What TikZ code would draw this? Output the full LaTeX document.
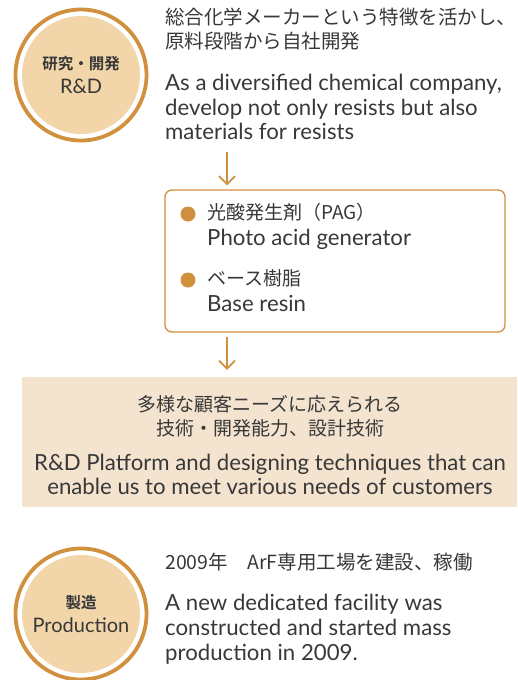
\documentclass[tikz,border=0pt]{standalone}
\usepackage{fontspec}
\setmainfont{Lato}
\newfontfamily\jpfont{Noto Sans CJK JP}[BoldFont={Noto Sans CJK JP Bold}]
\usepackage{xcolor}
\usetikzlibrary{arrows.meta,positioning}
\definecolor{accent}{HTML}{D1903E}
\definecolor{cream}{HTML}{F2D6AA}
\definecolor{band}{HTML}{F3E3CF}
\definecolor{ink}{HTML}{383838}
\newcommand\jptext[1]{{\jpfont\fontsize{19}{24.5}\selectfont #1}}

\begin{document}
\begin{tikzpicture}[x=1pt, y=-1pt,
  every node/.style={text=ink, inner sep=0pt},
  ring/.style={circle, draw=accent, line width=3.8pt, fill=white, minimum size=131pt},
  disc/.style={circle, fill=cream, minimum size=118pt, align=center, font=\fontsize{20}{24}\selectfont},
  jp/.style={font=\jpfont\fontsize{19.5}{24}\selectfont, align=left, anchor=north west},
  en/.style={font=\fontsize{22.2}{24.5}\selectfont, align=left, anchor=north west},
  flow/.style={draw=accent, line width=1.8pt, -{Straight Barb[length=8pt,width=16pt]}},
  bullet/.style={circle, fill=accent, minimum size=15pt},
  matbox/.style={draw=accent, line width=1.3pt, fill=white, rounded corners=7pt, minimum width=340pt, minimum height=142pt},
  platform/.style={fill=band, minimum width=495pt, minimum height=130pt}]
\useasboundingbox (0,0) rectangle (517,680);

% research and development
\node[ring] (rdring) at (81,75) {};
\node[disc] (rd) at (rdring) {{\jpfont\bfseries\fontsize{15.5}{24}\selectfont 研究・開発}\\R\&D};
\node[jp] (rdjp) at (165,8) {総合化学メーカーという特徴を活かし、\\原料段階から自社開発};
\node[en] (rden) at (165,74) {As a diversified chemical company,\\develop not only resists but also\\materials for resists};

% materials
\node[matbox] (mat) at (335,261) {};
\node[bullet] (pagdot) at (188,214) {};
\node[en] (pag) at (207,203) {\jptext{光酸発生剤（PAG）}\\[2pt]Photo acid generator};
\node[bullet] (resindot) at (188,280) {};
\node[en] (resin) at (207,269) {\jptext{ベース樹脂}\\[2pt]Base resin};

% platform
\node[platform] (plat) at (269.5,442) {};
\node[en, anchor=center, align=center] (plattext) at (270,445)
  {\jptext{多様な顧客ニーズに応えられる}\\\jptext{技術・開発能力、設計技術}\\[10pt]R\&D Platform and designing techniques that can\\enable us to meet various needs of customers};

% production
\node[ring] (prodring) at (81,614) {};
\node[disc] (prod) at (prodring) {{\jpfont\bfseries\fontsize{15.5}{24}\selectfont 製造}\\Production};
\node[jp] (prodjp) at (165,553) {2009年　ArF専用工場を建設、稼働};
\node[en, font=\fontsize{22.2}{25}\selectfont] (proden) at (165,594) {A new dedicated facility was\\constructed and started mass\\production in 2009.};

\coordinate (a1) at (227,152);
\draw[flow, shorten >=4pt] (a1) -- (a1 |- mat.north);
\draw[flow, shorten <=4pt, shorten >=7pt] (mat.south -| a1) -- (plat.north -| a1);
\end{tikzpicture}
\end{document}
